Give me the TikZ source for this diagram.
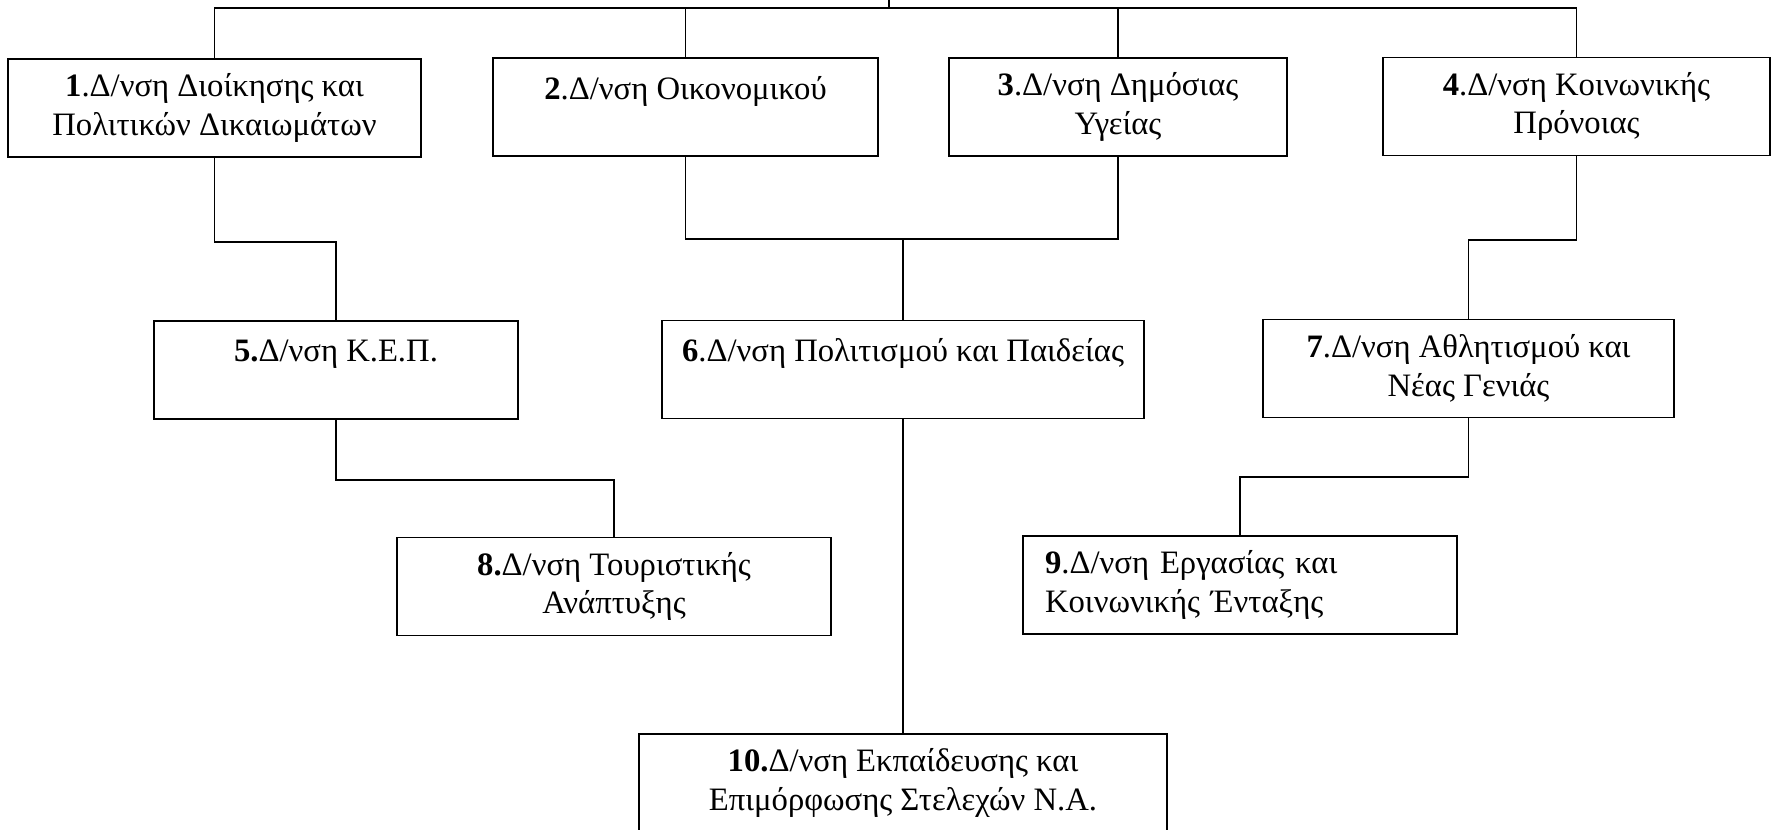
\documentclass[tikz,border=0pt]{standalone}
\usepackage{fontspec}
\setmainfont{Liberation Serif}
\usepackage{tikz}
\usetikzlibrary{positioning}

\begin{document}
\begin{tikzpicture}[x=0.02cm,y=-0.02cm,line width=0.9pt]
	\tikzset{box/.style={draw,align=center,minimum height=1.96cm,inner sep=2pt,font=\fontsize{18.6}{21.8}\selectfont}}
	\useasboundingbox (0,0) rectangle (1771,830);
	\node[box,minimum width=8.26cm] (d1) at (214.5,108) {\textbf{1}.Δ/νση Διοίκησης και\\Πολιτικών Δικαιωμάτων};
	\node[box,minimum width=7.7cm] (d2) at (685.5,107) {\textbf{2}.Δ/νση Οικονομικού\\~};
	\node[box,minimum width=6.76cm] (d3) at (1118,107) {\textbf{3}.Δ/νση Δημόσιας\\Υγείας};
	\node[box,minimum width=7.74cm] (d4) at (1576.5,106.5) {\textbf{4}.Δ/νση Κοινωνικής\\Πρόνοιας};
	\node[box,minimum width=7.28cm] (d5) at (336,370) {\textbf{5.}Δ/νση Κ.Ε.Π.\\~};
	\node[box,minimum width=9.64cm] (d6) at (903,369.5) {\textbf{6}.Δ/νση Πολιτισμού και Παιδείας\\~};
	\node[box,minimum width=8.22cm] (d7) at (1468.5,368.5) {\textbf{7}.Δ/νση Αθλητισμού και\\Νέας Γενιάς};
	\node[box,minimum width=8.68cm] (d8) at (614,586.5) {\textbf{8.}Δ/νση Τουριστικής\\Ανάπτυξης};
	\node[box,minimum width=8.68cm,text width=7.8cm,align=left] (d9) at (1240,585) {\textbf{9}.Δ/νση Εργασίας και\\Κοινωνικής Ένταξης};
	\node[box,minimum width=10.56cm] (d10) at (903,783) {\textbf{10.}Δ/νση Εκπαίδευσης και\\Επιμόρφωσης Στελεχών Ν.Α.};
	\coordinate (top) at (889,0);
	\coordinate (bus) at (889,8);
	\coordinate (j6) at (903,239);
	\draw (top) -- (bus);
	\draw (d1.north) |- (bus) -| (d4.north);
	\draw (d2.north) -- (d2.north |- bus);
	\draw (d3.north) -- (d3.north |- bus);
	\draw (d1.south) -- ++(0,84) -| (d5.north);
	\draw (d2.south) |- (j6) -| (d3.south);
	\draw (j6) -- (d6.north);
	\draw (d4.south) -- ++(0,84) -| (d7.north);
	\draw (d5.south) -- ++(0,60) -| (d8.north);
	\draw (d6.south) -- (d10.north);
	\draw (d7.south) -- ++(0,59) -| (d9.north);
\end{tikzpicture}
\end{document}
